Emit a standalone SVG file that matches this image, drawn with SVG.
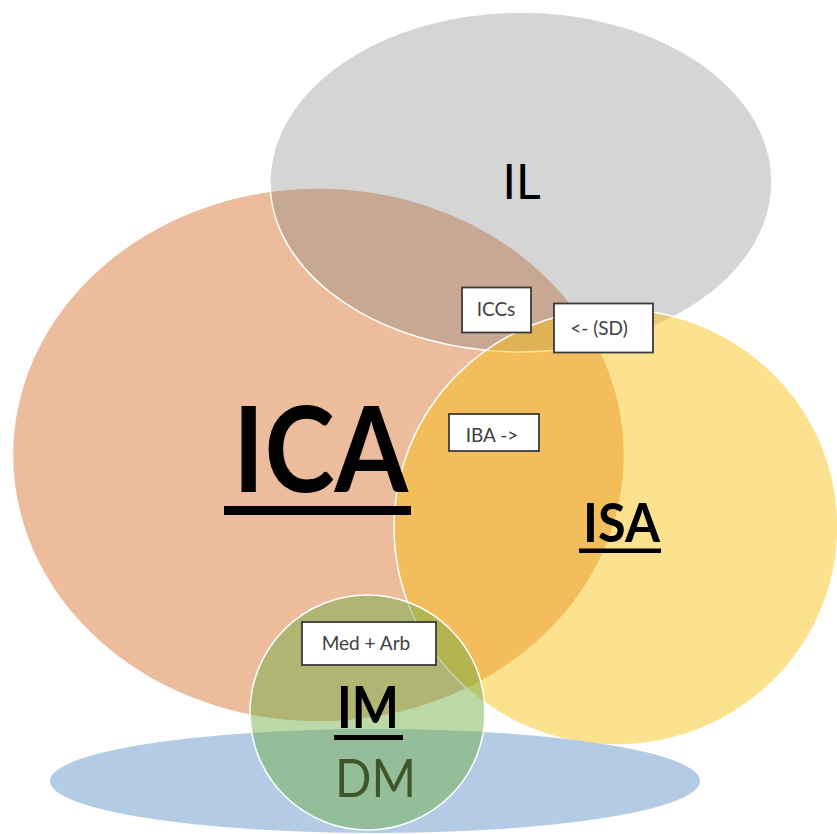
<svg xmlns="http://www.w3.org/2000/svg" width="837" height="834" viewBox="0 0 837 834">
<defs>
<style>
.sh{stroke:#ffffff;stroke-width:1.5}
.lbl{font-family:Lato,"Liberation Sans",sans-serif;fill:#000}
.big{font-weight:bold}
.box rect{fill:#ffffff;stroke:#3a3a3a;stroke-width:1.8}
.box text{font-family:Lato,"Liberation Sans",sans-serif;font-size:19px;fill:#404040;text-anchor:middle}
</style>
</defs>
<rect width="837" height="834" fill="#ffffff"/>
<g id="ICA">
<ellipse class="sh" cx="318.5" cy="455" rx="306" ry="267" fill="#e0905a" fill-opacity="0.6"/>
</g>
<g id="IL">
<ellipse class="sh" cx="521" cy="182" rx="251" ry="170" fill="#808080" fill-opacity="0.33"/>
</g>
<g id="ISA">
<ellipse class="sh" cx="616" cy="527" rx="222" ry="218" fill="#f8bf10" fill-opacity="0.47"/>
</g>
<g id="DM">
<ellipse cx="375" cy="781" rx="325" ry="52" fill="#b4cbe6"/>
</g>
<g id="IM">
<circle class="sh" cx="367.5" cy="712.5" r="117.5" fill="#70ad47" fill-opacity="0.48"/>
</g>
<g id="labels">
<text class="lbl" x="521.5" y="199" font-size="48" text-anchor="middle">IL</text>
<text class="lbl big" x="320.5" y="492" font-size="118" text-anchor="middle" textLength="175" lengthAdjust="spacingAndGlyphs">ICA</text>
<rect x="224" y="506" width="187" height="9" fill="#000"/>
<text class="lbl big" x="621.5" y="542" font-size="54" text-anchor="middle" textLength="77" lengthAdjust="spacingAndGlyphs">ISA</text>
<rect x="579" y="548.5" width="82" height="4.5" fill="#000"/>
<text class="lbl big" x="368" y="728" font-size="57" text-anchor="middle" textLength="62" lengthAdjust="spacingAndGlyphs">IM</text>
<rect x="334" y="735" width="69" height="5" fill="#000"/>
<text class="lbl" x="375.5" y="797" font-size="52" text-anchor="middle" style="fill:#3f5427" textLength="81" lengthAdjust="spacingAndGlyphs">DM</text>
</g>
<g id="connectors"/>
<g id="box-ICCs" class="box">
<rect x="462" y="287.5" width="69" height="45"/>
<text x="496" y="316">ICCs</text>
</g>
<g id="box-SD" class="box">
<rect x="554" y="303.5" width="99" height="49"/>
<text x="599" y="335">&lt;- (SD)</text>
</g>
<g id="box-IBA" class="box">
<rect x="449" y="414" width="90" height="37"/>
<text x="492" y="442">IBA -&gt;</text>
</g>
<g id="box-MedArb" class="box">
<rect x="302" y="622" width="134" height="43"/>
<text x="366" y="650">Med + Arb</text>
</g>
</svg>
